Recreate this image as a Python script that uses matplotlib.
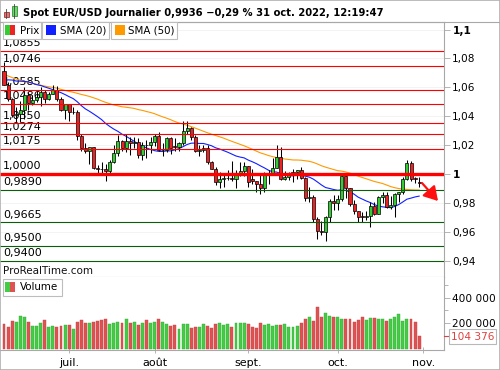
import matplotlib
matplotlib.use('Agg')
import matplotlib.pyplot as plt
import numpy as np
import pandas as pd
from matplotlib.patches import Rectangle
from matplotlib.lines import Line2D

plt.rcParams['font.family'] = ['DejaVu Sans']

# ---------------- data ----------------
dates = pd.bdate_range('2022-06-09', '2022-10-31')

opens = [1.0716, 1.0617, 1.0518, 1.0409, 1.0416, 1.0445, 1.0550, 1.0495, 1.0510, 1.0535,
         1.0567, 1.0522, 1.0554, 1.0583, 1.0519, 1.0443, 1.0484, 1.0427, 1.0430, 1.0266,
         1.0182, 1.0162, 1.0186, 1.0040, 1.0036, 1.0032, 1.0018, 1.0081, 1.0143, 1.0227,
         1.0178, 1.0230, 1.0212, 1.0225, 1.0132, 1.0200, 1.0198, 1.0224, 1.0260, 1.0165,
         1.0167, 1.0247, 1.0195, 1.0188, 1.0213, 1.0298, 1.0321, 1.0258, 1.0161, 1.0169,
         1.0179, 1.0084, 1.0038, 0.9942, 0.9967, 0.9972, 0.9975, 0.9966, 1.0001, 1.0018,
         1.0054, 0.9965, 0.9950, 0.9930, 0.9902, 0.9995, 1.0000, 1.0042, 1.0120, 0.9968,
         0.9978, 0.9998, 1.0014, 1.0025, 0.9972, 0.9837, 0.9838, 0.9690, 0.9607, 0.9600,
         0.9700, 0.9815, 0.9802, 0.9824, 0.9986, 0.9900, 0.9792, 0.9745, 0.9712, 0.9705,
         0.9712, 0.9778, 0.9723, 0.9839, 0.9857, 0.9774, 0.9782, 0.9861, 0.9875, 0.9964,
         1.0078, 0.9970, 0.9942]
highs = [1.0774, 1.0637, 1.0525, 1.0464, 1.0505, 1.0601, 1.0566, 1.0545, 1.0583, 1.0605,
         1.0580, 1.0571, 1.0615, 1.0606, 1.0530, 1.0488, 1.0486, 1.0463, 1.0446, 1.0275,
         1.0216, 1.0186, 1.0188, 1.0064, 1.0080, 1.0070, 1.0097, 1.0200, 1.0269, 1.0236,
         1.0278, 1.0258, 1.0258, 1.0250, 1.0222, 1.0234, 1.0254, 1.0274, 1.0294, 1.0215,
         1.0254, 1.0253, 1.0248, 1.0223, 1.0368, 1.0365, 1.0328, 1.0267, 1.0203, 1.0202,
         1.0202, 1.0093, 1.0049, 1.0017, 0.9999, 1.0030, 1.0090, 1.0028, 1.0080, 1.0080,
         1.0055, 1.0033, 0.9950, 0.9990, 1.0012, 1.0030, 1.0112, 1.0198, 1.0187, 1.0019,
         1.0017, 1.0037, 1.0028, 1.0050, 0.9976, 0.9907, 0.9852, 0.9705, 0.9674, 0.9710,
         0.9825, 0.9853, 0.9853, 0.9999, 0.9998, 0.9902, 0.9817, 0.9745, 0.9736, 0.9745,
         0.9808, 0.9807, 0.9845, 0.9875, 0.9874, 0.9849, 0.9870, 0.9875, 0.9976, 1.0094,
         1.0089, 0.9979, 0.9979]
lows = [1.0613, 1.0506, 1.0398, 1.0359, 1.0358, 1.0382, 1.0445, 1.0475, 1.0500, 1.0470,
        1.0490, 1.0512, 1.0553, 1.0505, 1.0436, 1.0382, 1.0366, 1.0416, 1.0236, 1.0162,
        1.0143, 1.0072, 1.0036, 0.9999, 0.9998, 0.9952, 1.0006, 1.0074, 1.0124, 1.0160,
        1.0153, 1.0130, 1.0181, 1.0111, 1.0095, 1.0113, 1.0145, 1.0196, 1.0160, 1.0123,
        1.0150, 1.0141, 1.0159, 1.0160, 1.0202, 1.0275, 1.0235, 1.0153, 1.0122, 1.0150,
        1.0072, 1.0032, 0.9926, 0.9900, 0.9910, 0.9955, 0.9951, 0.9900, 0.9985, 0.9985,
        0.9910, 0.9933, 0.9876, 0.9864, 0.9876, 0.9930, 0.9990, 1.0040, 0.9956, 0.9956,
        0.9955, 0.9945, 0.9966, 0.9968, 0.9811, 0.9807, 0.9668, 0.9553, 0.9580, 0.9536,
        0.9665, 0.9750, 0.9750, 0.9810, 0.9835, 0.9780, 0.9725, 0.9670, 0.9670, 0.9680,
        0.9632, 0.9715, 0.9722, 0.9800, 0.9764, 0.9757, 0.9705, 0.9807, 0.9860, 0.9957,
        0.9952, 0.9935, 0.9910]
closes = [1.0617, 1.0518, 1.0409, 1.0416, 1.0445, 1.0550, 1.0495, 1.0510, 1.0535, 1.0567,
          1.0522, 1.0554, 1.0583, 1.0519, 1.0443, 1.0484, 1.0427, 1.0430, 1.0266, 1.0182,
          1.0162, 1.0186, 1.0040, 1.0036, 1.0032, 1.0018, 1.0081, 1.0143, 1.0227, 1.0178,
          1.0230, 1.0212, 1.0225, 1.0132, 1.0200, 1.0198, 1.0224, 1.0260, 1.0165, 1.0167,
          1.0247, 1.0181, 1.0188, 1.0213, 1.0298, 1.0321, 1.0258, 1.0161, 1.0169, 1.0179,
          1.0084, 1.0038, 0.9942, 0.9967, 0.9972, 0.9975, 0.9966, 1.0001, 1.0018, 1.0054,
          0.9944, 0.9950, 0.9930, 0.9902, 1.0010, 1.0000, 1.0042, 1.0120, 0.9968, 0.9978,
          0.9998, 1.0014, 1.0025, 0.9972, 0.9837, 0.9838, 0.9690, 0.9607, 0.9600, 0.9700,
          0.9815, 0.9802, 0.9824, 0.9986, 0.9900, 0.9792, 0.9745, 0.9702, 0.9705, 0.9712,
          0.9778, 0.9723, 0.9839, 0.9857, 0.9774, 0.9782, 0.9861, 0.9875, 0.9964, 1.0078,
          0.9962, 0.9965, 0.9936]
volumes = [197000, 171000, 218000, 210000, 257000, 249000, 210000, 179000, 179000, 202000,
           226000, 171000, 179000, 171000, 179000, 187000, 187000, 155000, 210000, 226000,
           202000, 202000, 210000, 218000, 226000, 234000, 195000, 202000, 210000, 202000,
           234000, 202000, 210000, 187000, 202000, 226000, 202000, 210000, 234000, 210000,
           195000, 179000, 187000, 155000, 195000, 195000, 163000, 171000, 171000, 195000,
           179000, 163000, 192000, 202000, 187000, 195000, 171000, 202000, 202000, 202000,
           195000, 171000, 163000, 202000, 187000, 195000, 179000, 187000, 187000, 195000,
           171000, 171000, 179000, 202000, 234000, 249000, 218000, 327000, 249000, 280000,
           257000, 249000, 249000, 234000, 234000, 234000, 210000, 226000, 249000, 226000,
           241000, 241000, 234000, 234000, 218000, 234000, 249000, 273000, 218000, 234000,
           234000, 210000, 104376]
# closes before the first visible candle (needed for the moving averages)
prior_closes = [1.1046, 1.0971, 1.0904, 1.0899, 1.0878, 1.0876, 1.0886, 1.0828, 1.0890, 1.0825,
                1.0808, 1.0780, 1.0789, 1.0853, 1.0837, 1.0797, 1.0714, 1.0640, 1.0559, 1.0498,
                1.0544, 1.0505, 1.0525, 1.0623, 1.0541, 1.0551, 1.0560, 1.0529, 1.0511, 1.0380,
                1.0411, 1.0435, 1.0550, 1.0465, 1.0585, 1.0561, 1.0690, 1.0735, 1.0680, 1.0725,
                1.0733, 1.0780, 1.0733, 1.0646, 1.0750, 1.0718, 1.0697, 1.0703, 1.0716]

resistance_levels = [1.0855, 1.0746, 1.0585, 1.0486, 1.0350, 1.0274, 1.0175]
pivot_level = 1.0000
support_levels = [0.9890, 0.9665, 0.9500, 0.9400]
price_ticks = [0.94, 0.96, 0.98, 1.00, 1.02, 1.04, 1.06, 1.08, 1.10]
bold_ticks = [1.00, 1.10]
vol_ticks = [200000, 400000]
vol_minor_ticks = [100000, 300000, 500000]
month_starts = ['2022-07-01', '2022-08-01', '2022-09-01', '2022-10-01', '2022-11-01']
month_labels = ['juil.', 'août', 'sept.', 'oct.', 'nov.']
title = 'Spot EUR/USD Journalier 0,9936 \u22120,29 % 31 oct. 2022, 12:19:47'
last_volume_label = '104 376'

# ---------------- derived ----------------
n = len(dates)
x = np.arange(n)
o = np.array(opens); h = np.array(highs); l = np.array(lows); c = np.array(closes)
up = c >= o
all_closes = pd.Series(prior_closes + closes)
sma20 = all_closes.rolling(20).mean().iloc[len(prior_closes):].to_numpy()
sma50 = all_closes.rolling(50).mean().iloc[len(prior_closes):].to_numpy()
month_pos = [int(np.searchsorted(dates, pd.Timestamp(d))) for d in month_starts]

W, H = 500, 370
def fx(px): return px / W
def fy(py): return 1 - py / H

GREEN = '#33cc33'
RED = '#ee2222'
GRAY = '#a8a8a8'

fig = plt.figure(figsize=(5, 3.7), dpi=100)
fig.patch.set_facecolor('white')

ax = fig.add_axes([0, fy(277), fx(444), (277 - 22) / H])
axv = fig.add_axes([0, fy(350), fx(444), (350 - 277) / H])

xlim = (-0.98, 108.1)

# ---- main price panel ----
ax.set_xlim(*xlim)
ax.set_ylim(0.92867, 1.10526)
for t in price_ticks:
    ax.axhline(t, color='#f3f3f3', lw=0.7, zorder=0)
for lv in resistance_levels:
    ax.axhline(lv, color='#ff0000', lw=0.8, zorder=5)
ax.axhline(pivot_level, color='#ff0000', lw=2.4, zorder=5)
for lv in support_levels:
    ax.axhline(lv, color='#0b5d0b', lw=0.8, zorder=5)

def fmt_level(v):
    return f'{v:.4f}'.replace('.', ',')

for lv in resistance_levels + [pivot_level] + support_levels:
    ax.annotate(fmt_level(lv), xy=(0, lv), xycoords=('axes fraction', 'data'),
                xytext=(2.2, 3.4), textcoords='offset points', fontsize=8,
                va='baseline', ha='left', color='black', zorder=1.5)

ax.plot(x, sma50, color='#ff9900', lw=0.8, zorder=2)
ax.plot(x, sma20, color='#1020ff', lw=0.8, zorder=2)

ax.vlines(x, l, h, color='black', lw=0.75, zorder=3)
body_h = np.maximum(np.abs(c - o), 0.00025)
ax.bar(x, body_h, bottom=np.minimum(o, c), width=0.75,
       color=[GREEN if u else RED for u in up], edgecolor='black', linewidth=0.5, zorder=4)

ax.yaxis.tick_right()
ax.set_yticks(price_ticks)
ax.set_yticklabels([(f'{t:.2f}'.rstrip('0').rstrip('.')).replace('.', ',') for t in price_ticks])
for lab, t in zip(ax.get_yticklabels(), price_ticks):
    if any(abs(t - b) < 1e-9 for b in bold_ticks):
        lab.set_fontweight('bold')
ax.tick_params(axis='y', direction='out', length=4, width=0.6, color=GRAY, labelsize=7.6, pad=2)
ax.set_xticks([])
ax.spines['left'].set_visible(False)
for s in ['top', 'right', 'bottom']:
    ax.spines[s].set_color(GRAY)
    ax.spines[s].set_linewidth(0.8)

ax.text(3 / 444, 1 - (271 - 22) / 255, 'ProRealTime.com', transform=ax.transAxes,
        fontsize=7.5, va='center', ha='left', color='#111111', zorder=6)

# ---- volume panel ----
axv.set_xlim(*xlim)
axv.set_ylim(-8600, 561700)
axv.bar(x, volumes, width=0.72, color=['#45cc45' if u else '#e05252' for u in up],
        edgecolor=['#35a835' if u else '#c04040' for u in up], linewidth=0.3, zorder=2)
axv.yaxis.tick_right()
axv.set_yticks(vol_ticks)
axv.set_yticklabels([f'{v:,}'.replace(',', ' ') for v in vol_ticks])
axv.set_yticks(vol_minor_ticks, minor=True)
axv.tick_params(axis='y', which='major', direction='out', length=4, width=0.6, color=GRAY, labelsize=7.6, pad=2)
axv.tick_params(axis='y', which='minor', direction='out', length=3, width=0.6, color=GRAY)
axv.set_xticks(month_pos)
axv.set_xticklabels(month_labels)
axv.tick_params(axis='x', direction='inout', length=4, width=0.6, color=GRAY, labelsize=8, pad=4)
axv.spines['left'].set_visible(False)
axv.spines['top'].set_visible(False)
for s in ['right', 'bottom']:
    axv.spines[s].set_color(GRAY)
    axv.spines[s].set_linewidth(0.8)

# last volume value marker
fig.add_artist(Line2D([fx(444), fx(448)], [fy(336)] * 2, color='#e04040', lw=0.8))
fig.text(fx(472.5), fy(336.5), last_volume_label, color='#e04040', fontsize=7.6,
         ha='center', va='center',
         bbox=dict(boxstyle='square,pad=0.2', fc='white', ec='#b8b8b8', lw=0.8))

# ---- title bar ----
fig.add_artist(Line2D([0, 1], [fy(21.5)] * 2, color=GRAY, lw=0.8))
fig.text(fx(23), fy(13), title, fontsize=7.2, fontweight='bold', ha='left', va='center')
# small candle icon
fig.add_artist(Line2D([fx(6)] * 2, [fy(9), fy(18)], color='#444444', lw=0.6))
fig.add_artist(Rectangle((fx(3.5), fy(17)), fx(5), 5 / H, fc='#f07070', ec='#7a2020', lw=0.5))
fig.add_artist(Line2D([fx(14)] * 2, [fy(4), fy(18)], color='#444444', lw=0.6))
fig.add_artist(Rectangle((fx(11.5), fy(16)), fx(5), 10 / H, fc='#66dd66', ec='#207a20', lw=0.5))

# ---- legend boxes ----
def legend_box(x0, x1, y0, y1):
    fig.add_artist(Rectangle((fx(x0), fy(y1)), fx(x1 - x0), (y1 - y0) / H,
                             fc='white', ec='#bdbdbd', lw=0.8, zorder=10))

def icon(x0, y0, size, colors):
    wseg = size / len(colors)
    for k, col in enumerate(colors):
        fig.add_artist(Rectangle((fx(x0 + k * wseg), fy(y0 + size)), fx(wseg), size / H,
                                 fc=col, ec='none', zorder=11))

legend_box(2.5, 41, 22, 38.5)
icon(5, 25, 10, [GREEN, RED])
fig.text(fx(20), fy(30.5), 'Prix', fontsize=7.4, va='center', ha='left', zorder=12)
legend_box(42, 108.5, 22, 38.5)
icon(45.5, 25, 10, ['#1020ff'])
fig.text(fx(60), fy(30.5), 'SMA (20)', fontsize=7.4, va='center', ha='left', zorder=12)
legend_box(110.5, 177, 22, 38.5)
icon(114.5, 25, 10, ['#ff9900'])
fig.text(fx(128), fy(30.5), 'SMA (50)', fontsize=7.4, va='center', ha='left', zorder=12)

legend_box(2.5, 62, 278.5, 296)
icon(5, 282, 10, ['#45cc45', '#e05252'])
fig.text(fx(19.5), fy(287), 'Volume', fontsize=7.4, va='center', ha='left', zorder=12)

# ---- arrow ----
ax.annotate('', xy=(438, H - 201), xytext=(422, H - 183),
            xycoords='figure pixels', textcoords='figure pixels',
            arrowprops=dict(arrowstyle='-|>,head_width=0.45,head_length=0.75',
                            color='#ff1010', lw=1.6, mutation_scale=11,
                            shrinkA=0, shrinkB=0), zorder=8)

# ---- outer frame ----
fig.add_artist(Rectangle((0, 0), 1, 1, transform=fig.transFigure, fill=False,
                         ec='#b0b0b0', lw=1.2))

fig.savefig('out.png', dpi=100)
